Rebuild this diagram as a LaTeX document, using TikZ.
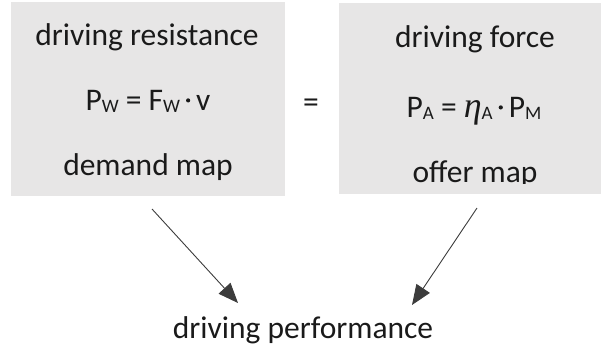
\documentclass[tikz,border=0pt]{standalone}
\usepackage{fontspec}
\setmainfont{Carlito}
\newfontfamily\grkfont{Liberation Serif}
\usetikzlibrary{arrows.meta}
\definecolor{boxgray}{HTML}{E7E6E6}
\definecolor{inkgray}{HTML}{1A1A1A}
\tikzset{
  panel/.style={fill=boxgray, draw=none},
  label/.style={anchor=base, inner sep=0pt, text=inkgray,
    font=\fontsize{31.5}{36}\selectfont},
  link/.style={draw=inkgray!85, line width=0.9pt,
    -{Triangle[length=20pt,width=16pt]}},
}
% small lowered subscript letters, a heavy centred dot and an italic eta
\newcommand{\sbs}[1]{\raisebox{-2.5pt}{\fontsize{19}{22}\selectfont #1}}
\newcommand{\hdot}{\hspace{6pt}\raisebox{7.5pt}{\tikz\fill[inkgray] (0,0) circle [radius=2.1pt];}\hspace{6pt}}
\newcommand{\etasym}{{\grkfont\itshape\fontsize{36}{38}\selectfont η}}
\begin{document}
\begin{tikzpicture}[x=1pt,y=-1pt]
  \clip (0,0) rectangle (601,346);
  % the two panels
  \fill[panel] (11,2) rectangle (285,196);
  \fill[panel] (339,3) rectangle (613,194);
  % demand side
  \node[label] (res)  at (147,45)  {driving resistance};
  \node[label] (pw)   at (148,110) {P\sbs{W} = F\sbs{W}\hdot v};
  \node[label] (dem)  at (148,175) {demand map};
  % equality between the two sides
  \node[label] (eq)   at (311,112) {=};
  % offer side
  \node[label] (frc)  at (475,47)  {driving force};
  \node[label] (pa)   at (474,117) {P\sbs{A} = \etasym\sbs{A}\hdot P\sbs{M}};
  \begin{scope}
    \clip (339,150) rectangle (613,183);
    \node[label] (off) at (475,182) {offer map};
  \end{scope}
  % result
  \node[label] (perf) at (303,338) {driving performance};
  % connectors
  \coordinate (a1) at (152,209);
  \coordinate (a2) at (238,303);
  \coordinate (b1) at (477,208);
  \coordinate (b2) at (412,305);
  \draw[link] (a1) -- (a2);
  \draw[link] (b1) -- (b2);
\end{tikzpicture}
\end{document}
